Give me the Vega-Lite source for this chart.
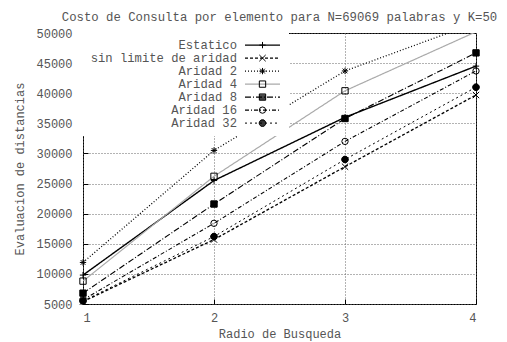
{
  "$schema": "https://vega.github.io/schema/vega-lite/v6.json",
  "width": 393,
  "height": 271,
  "autosize": {"type": "none"},
  "padding": {"left": 83, "top": 33, "right": 31, "bottom": 38},
  "background": "white",
  "title": {
    "text": "Costo de Consulta por elemento para N=69069 palabras y K=50",
    "font": "Liberation Mono",
    "fontSize": 12.3,
    "fontWeight": "normal",
    "color": "#555",
    "offset": 4,
    "anchor": "middle"
  },
  "config": {
    "view": {"stroke": "#000", "strokeWidth": 1},
    "axis": {
      "labelFont": "Liberation Mono",
      "labelFontSize": 12,
      "labelColor": "#555",
      "titleFont": "Liberation Mono",
      "titleFontSize": 12,
      "titleFontWeight": "normal",
      "titleColor": "#555",
      "domain": false,
      "ticks": true,
      "tickSize": -5,
      "tickColor": "#000",
      "grid": true,
      "gridColor": "#666",
      "gridDash": [1, 2],
      "gridOpacity": 1,
      "gridWidth": 1
    }
  },
  "data": {
    "values": [
      {"radio": 1, "serie": "Estatico", "eval": 9800},
      {"radio": 2, "serie": "Estatico", "eval": 25500},
      {"radio": 3, "serie": "Estatico", "eval": 36000},
      {"radio": 4, "serie": "Estatico", "eval": 44500},
      {"radio": 1, "serie": "sin limite de aridad", "eval": 5400},
      {"radio": 2, "serie": "sin limite de aridad", "eval": 15700},
      {"radio": 3, "serie": "sin limite de aridad", "eval": 27800},
      {"radio": 4, "serie": "sin limite de aridad", "eval": 39700},
      {"radio": 1, "serie": "Aridad 2", "eval": 11900},
      {"radio": 2, "serie": "Aridad 2", "eval": 30500},
      {"radio": 3, "serie": "Aridad 2", "eval": 43700},
      {"radio": 4, "serie": "Aridad 2", "eval": 51700},
      {"radio": 1, "serie": "Aridad 4", "eval": 8800},
      {"radio": 2, "serie": "Aridad 4", "eval": 26200},
      {"radio": 3, "serie": "Aridad 4", "eval": 40400},
      {"radio": 4, "serie": "Aridad 4", "eval": 50200},
      {"radio": 1, "serie": "Aridad 8", "eval": 6800},
      {"radio": 2, "serie": "Aridad 8", "eval": 21600},
      {"radio": 3, "serie": "Aridad 8", "eval": 35800},
      {"radio": 4, "serie": "Aridad 8", "eval": 46700},
      {"radio": 1, "serie": "Aridad 16", "eval": 5700},
      {"radio": 2, "serie": "Aridad 16", "eval": 18400},
      {"radio": 3, "serie": "Aridad 16", "eval": 32000},
      {"radio": 4, "serie": "Aridad 16", "eval": 43700},
      {"radio": 1, "serie": "Aridad 32", "eval": 5500},
      {"radio": 2, "serie": "Aridad 32", "eval": 16200},
      {"radio": 3, "serie": "Aridad 32", "eval": 29000},
      {"radio": 4, "serie": "Aridad 32", "eval": 41000}
    ]
  },
  "encoding": {
    "x": {
      "field": "radio",
      "type": "quantitative",
      "scale": {"domain": [1, 4], "nice": false, "zero": false},
      "axis": {"values": [1, 2, 3, 4], "format": "d", "title": "Radio de Busqueda", "labelPadding": 13, "titlePadding": 5}
    },
    "y": {
      "field": "eval",
      "type": "quantitative",
      "scale": {"domain": [5000, 50000], "nice": false, "zero": false},
      "axis": {"values": [5000, 10000, 15000, 20000, 25000, 30000, 35000, 40000, 45000, 50000], "format": "d", "title": "Evaluacion de distancias", "labelPadding": 16, "titlePadding": 9}
    }
  },
  "layer": [
    {
      "mark": {"type": "line", "clip": true},
      "encoding": {
        "color": {
          "field": "serie",
          "type": "nominal",
          "scale": {
            "domain": ["Estatico", "sin limite de aridad", "Aridad 2", "Aridad 4", "Aridad 8", "Aridad 16", "Aridad 32"],
            "range": ["#000", "#000", "#000", "#aaa", "#000", "#000", "#000"]
          },
          "legend": {
            "orient": "none", "legendX": 0, "legendY": 0, "title": null,
            "symbolType": "M-10,0H10", "symbolSize": 12.25, "symbolStrokeWidth": 1.2, "symbolOffset": 167.4,
            "labelAlign": "right", "labelOffset": -31.6, "labelFont": "Liberation Mono",
            "labelFontSize": 12.2, "labelColor": "#555", "labelLimit": 300,
            "rowPadding": 0, "padding": 6, "fillColor": "white"
          }
        },
        "strokeDash": {
          "field": "serie",
          "type": "nominal",
          "scale": {
            "domain": ["Estatico", "sin limite de aridad", "Aridad 2", "Aridad 4", "Aridad 8", "Aridad 16", "Aridad 32"],
            "range": [[1, 0], [3, 2], [1, 2], [1, 0], [6, 2, 1, 2], [4, 2, 1, 2], [2, 3]]
          },
          "legend": {
            "orient": "none", "legendX": 0, "legendY": 0, "title": null,
            "symbolType": "M-10,0H10", "symbolSize": 12.25, "symbolStrokeWidth": 1.2, "symbolOffset": 167.4,
            "labelAlign": "right", "labelOffset": -31.6, "labelFont": "Liberation Mono",
            "labelFontSize": 12.2, "labelColor": "#555", "labelLimit": 300,
            "rowPadding": 0, "padding": 6, "fillColor": "white"
          }
        },
        "strokeWidth": {
          "field": "serie",
          "type": "nominal",
          "scale": {
            "domain": ["Estatico", "sin limite de aridad", "Aridad 2", "Aridad 4", "Aridad 8", "Aridad 16", "Aridad 32"],
            "range": [1.4, 1, 1, 1, 1, 1, 1]
          },
          "legend": null
        }
      }
    },
    {
      "transform": [{"filter": "datum.eval <= 50000 && datum.serie !== 'Aridad 8' && datum.serie !== 'Aridad 32'"}],
      "mark": {"type": "point", "filled": false, "stroke": "#000", "fill": "transparent", "strokeWidth": 1, "size": 40, "opacity": 1},
      "encoding": {
        "shape": {
          "field": "serie",
          "type": "nominal",
          "sort": ["Estatico", "sin limite de aridad", "Aridad 2", "Aridad 4", "Aridad 8", "Aridad 16", "Aridad 32"],
          "scale": {
            "domain": ["Estatico", "sin limite de aridad", "Aridad 2", "Aridad 4", "Aridad 8", "Aridad 16", "Aridad 32", "x"],
            "range": [
              "M-1,0H1M0,-1V1",
              "M-1,-1L1,1M-1,1L1,-1",
              "M-1,0H1M0,-1V1M-0.75,-0.75L0.75,0.75M-0.75,0.75L0.75,-0.75",
              "square",
              "M-1,-1H1V1H-1ZM-1,-0.67H1M-1,-0.33H1M-1,0H1M-1,0.33H1M-1,0.67H1",
              "circle",
              "M1.05,0A1.05,1.05,0,1,1,-1.05,0A1.05,1.05,0,1,1,1.05,0ZM-0.5,-0.9H0.5M-0.82,-0.6H0.82M-0.97,-0.3H0.97M-1.05,0H1.05M-0.97,0.3H0.97M-0.82,0.6H0.82M-0.5,0.9H0.5",
              "circle"
            ]
          },
          "legend": {
            "orient": "none", "legendX": 0, "legendY": 0, "title": null,
            "values": ["Estatico", "sin limite de aridad", "Aridad 2", "Aridad 4", "Aridad 8", "Aridad 16", "Aridad 32"],
            "symbolSize": 40, "symbolStrokeWidth": 1, "symbolStrokeColor": "#000", "symbolFillColor": "transparent", "symbolOffset": 167.4,
            "labelOpacity": 0, "labelAlign": "right", "labelOffset": -31.6, "labelFontSize": 12.2, "labelFont": "Liberation Mono", "labelLimit": 300,
            "rowPadding": 0, "padding": 6
          }
        }
      }
    },
    {
      "transform": [{"filter": "datum.eval <= 50000 && (datum.serie === 'Aridad 8' || datum.serie === 'Aridad 32')"}],
      "mark": {"type": "point", "filled": true, "color": "#000", "stroke": "#000", "strokeWidth": 1, "size": 40, "opacity": 1},
      "encoding": {
        "shape": {
          "field": "serie",
          "type": "nominal",
          "legend": null
        }
      }
    }
  ]
}
